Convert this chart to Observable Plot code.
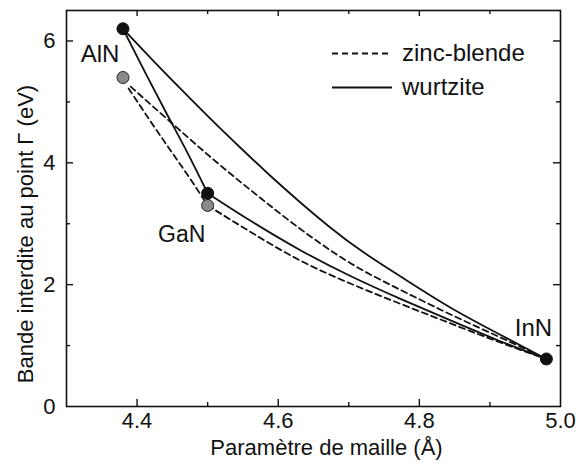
<!DOCTYPE html>
<html><head><meta charset="utf-8">
<script src="https://cdn.jsdelivr.net/npm/d3@7"></script>
<script src="https://cdn.jsdelivr.net/npm/@observablehq/plot@0.6"></script>
<style>body{margin:0;background:#fff} #chart{width:579px;height:465px}</style>
</head><body><div id="chart"></div>
<script>
// ---- data ----
const materials = ["AlN", "GaN", "InN"];
const wzLattice = [4.38, 4.50, 4.98];
const wzGap = [6.2, 3.5, 0.78];
const zbMaterials = ["AlN", "GaN"];
const zbLattice = [4.38, 4.50];
const zbGap = [5.4, 3.3];

// wurtzite AlN–InN
const wzAlInX = [4.38, 4.419, 4.462, 4.504, 4.547, 4.589, 4.632, 4.674, 4.717, 4.774, 4.845, 4.916, 4.98];
const wzAlInY = [6.2, 5.72, 5.21, 4.72, 4.24, 3.78, 3.34, 2.93, 2.55, 2.13, 1.60, 1.17, 0.78];
// wurtzite AlN–GaN
const wzAlGaX = [4.38, 4.411, 4.442, 4.473, 4.50];
const wzAlGaY = [6.2, 5.49, 4.80, 4.14, 3.5];
// wurtzite GaN–InN
const wzGaInX = [4.50, 4.561, 4.632, 4.703, 4.774, 4.845, 4.916, 4.98];
const wzGaInY = [3.5, 3.04, 2.55, 2.13, 1.76, 1.41, 1.06, 0.78];
// zinc-blende AlN–InN
const zbAlInX = [4.391, 4.419, 4.462, 4.504, 4.547, 4.589, 4.632, 4.703, 4.774, 4.845, 4.916, 4.98];
const zbAlInY = [5.25, 4.96, 4.52, 4.09, 3.68, 3.29, 2.90, 2.32, 1.91, 1.50, 1.13, 0.78];
// zinc-blende AlN–GaN
const zbAlGaX = [4.388, 4.412, 4.442, 4.472, 4.50];
const zbAlGaY = [5.22, 4.80, 4.29, 3.80, 3.3];
// zinc-blende GaN–InN
const zbGaInX = [4.50, 4.561, 4.632, 4.703, 4.774, 4.845, 4.916, 4.98];
const zbGaInY = [3.3, 2.86, 2.37, 2.01, 1.68, 1.36, 1.04, 0.78];

// ticks
const xTickLabels = [4.4, 4.6, 4.8, 5.0];
const xMajor = [4.4, 4.6, 4.8];
const xMinor = [4.5, 4.7, 4.9];
const yTickLabels = [0, 2, 4, 6];
const yMajor = [2, 4, 6];
const yMinor = [1, 3, 5];

const xTitle = "Paramètre de maille (Å)";
const yTitle = "Bande interdite au point Γ (eV)";
const legendLabels = ["zinc-blende", "wurtzite"];

// ---- layout ----
const W = 579, H = 465, mL = 66, mR = 19, mT = 10, mB = 59;
const FW = W - mL - mR, FH = H - mT - mB;
const FONT = "'Liberation Sans', Arial, Helvetica, sans-serif";
const INK = "#111";
const LW = 1.8;

const pts = (xs, ys) => xs.map((x, i) => ({x, y: ys[i]}));
const wzPts = materials.map((m, i) => ({m, x: wzLattice[i], y: wzGap[i]}));
const zbPts = zbMaterials.map((m, i) => ({m, x: zbLattice[i], y: zbGap[i]}));

const labelPts = [
  {m: "AlN", x: wzLattice[0], y: wzGap[0]},
  {m: "GaN", x: zbLattice[1], y: zbGap[1]},
  {m: "InN", x: wzLattice[2], y: wzGap[2]}
];

const solid = {x: "x", y: "y", curve: "basis", stroke: INK, strokeWidth: LW};
const dashed = {...solid, strokeDasharray: "6,4"};

function overlayMark() {
  const g = d3.create("svg:g").attr("font-family", FONT).attr("fill", INK);
  const right = W - mR;
  legendLabels.forEach((lab, i) => {
    const y = mT + 43.5 + i * 34;
    const ln = g.append("line").attr("x1", right - 228).attr("x2", right - 168)
      .attr("y1", y).attr("y2", y).attr("stroke", INK).attr("stroke-width", LW);
    if (i === 0) ln.attr("stroke-dasharray", "6,4");
    g.append("text").attr("x", right - 158).attr("y", y).attr("dy", "0.32em")
      .attr("font-size", 24).attr("text-anchor", "start").text(lab);
  });
  // y axis title (rotated)
  g.append("text").attr("transform", `translate(33,${mT + FH / 2 + 26}) rotate(-90)`)
    .attr("text-anchor", "middle").attr("font-size", 22).text(yTitle);
  return g.node();
}

const chart = Plot.plot({
  width: W, height: H,
  marginLeft: mL, marginRight: mR, marginTop: mT, marginBottom: mB,
  style: {fontFamily: FONT, fontSize: "22px", color: INK, background: "white", overflow: "visible"},
  x: {domain: [4.3, 5.0], axis: null},
  y: {domain: [0, 6.5], axis: null},
  marks: [
    // inward ticks on all four sides
    Plot.tickX(xMajor, {x: d => d, insetTop: FH - 7, stroke: INK, strokeWidth: 1.4}),
    Plot.tickX(xMinor, {x: d => d, insetTop: FH - 4, stroke: INK, strokeWidth: 1.4}),
    Plot.tickX(xMajor, {x: d => d, insetBottom: FH - 6, stroke: INK, strokeWidth: 1.4}),
    Plot.tickX(xMinor, {x: d => d, insetBottom: FH - 4, stroke: INK, strokeWidth: 1.4}),
    Plot.tickY(yMajor, {y: d => d, insetRight: FW - 7, stroke: INK, strokeWidth: 1.4}),
    Plot.tickY(yMinor, {y: d => d, insetRight: FW - 4, stroke: INK, strokeWidth: 1.4}),
    Plot.tickY(yMajor, {y: d => d, insetLeft: FW - 7, stroke: INK, strokeWidth: 1.4}),
    Plot.tickY(yMinor, {y: d => d, insetLeft: FW - 4, stroke: INK, strokeWidth: 1.4}),
    // tick labels
    Plot.text(xTickLabels, {x: d => d, text: d => d.toFixed(1), frameAnchor: "bottom", dy: 21, fontSize: 22, fill: INK}),
    Plot.text(yTickLabels, {y: d => d, text: d => String(d), frameAnchor: "left", dx: -11, textAnchor: "end", fontSize: 22, fill: INK}),
    // curves
    Plot.line(pts(zbAlInX, zbAlInY), dashed),
    Plot.line(pts(zbAlGaX, zbAlGaY), dashed),
    Plot.line(pts(zbGaInX, zbGaInY), dashed),
    Plot.line(pts(wzAlInX, wzAlInY), solid),
    Plot.line(pts(wzAlGaX, wzAlGaY), solid),
    Plot.line(pts(wzGaInX, wzGaInY), solid),
    // points
    Plot.dot(zbPts, {x: "x", y: "y", r: 6, fill: "#8a8a8a", stroke: "#222", strokeWidth: 1}),
    Plot.dot(wzPts, {x: "x", y: "y", r: 6, fill: INK, stroke: INK, strokeWidth: 1}),
    // material labels
    Plot.text(labelPts, {x: "x", y: "y", text: "m", dx: -23, dy: 26, fontSize: 24, filter: d => d.m === "AlN", fill: INK}),
    Plot.text(labelPts, {x: "x", y: "y", text: "m", dx: -26, dy: 29, fontSize: 23, filter: d => d.m === "GaN", fill: INK}),
    Plot.text(labelPts, {x: "x", y: "y", text: "m", dx: -13, dy: -31, fontSize: 24, filter: d => d.m === "InN", fill: INK}),
    // x axis title
    Plot.text([xTitle], {text: d => d, frameAnchor: "bottom", dx: 13, dy: 48, fontSize: 22, fill: INK}),
    Plot.frame({stroke: INK, strokeWidth: 1.6}),
    overlayMark
  ]
});
document.getElementById("chart").append(chart);
</script>
</body></html>
